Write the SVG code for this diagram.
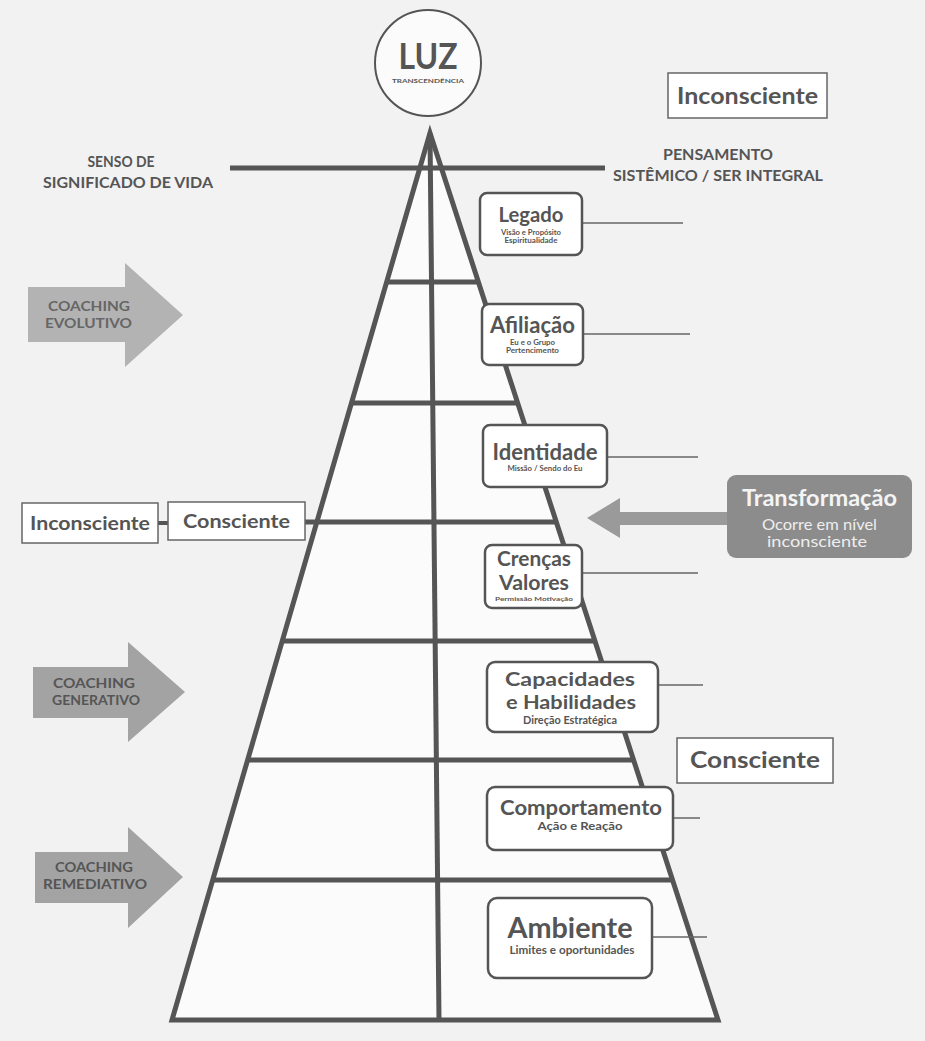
<svg xmlns="http://www.w3.org/2000/svg" width="925" height="1041" viewBox="0 0 925 1041">
<defs>
<style>
.f{font-family:Lato,'Open Sans','Liberation Sans',sans-serif;font-weight:700;fill:#555;text-anchor:middle}
.r{font-weight:700}
.box{fill:#fff;stroke:#555;stroke-width:2.5}
.lbl{fill:#fff;stroke:#666;stroke-width:1.5}
.pl{stroke:#555;stroke-width:5;fill:none}
.cn{stroke:#666;stroke-width:1.5;fill:none}
</style>
</defs>
<rect x="0" y="0" width="925" height="1041" fill="#f2f2f2"/>

<g id="pyramid">
<polygon points="430,133 718,1020 172,1020" fill="#fbfbfb" stroke="#555" stroke-width="5" stroke-linejoin="miter"/>
<line class="pl" x1="430" y1="133" x2="439" y2="1020" stroke-width="4"/>
<line class="pl" x1="230" y1="168" x2="605" y2="168"/>
<line class="pl" x1="387" y1="282" x2="478" y2="282"/>
<line class="pl" x1="351" y1="403" x2="518" y2="403"/>
<line class="pl" x1="305" y1="522" x2="556" y2="522"/>
<line class="pl" x1="282" y1="641" x2="595" y2="641"/>
<line class="pl" x1="247" y1="760" x2="634" y2="760"/>
<line class="pl" x1="213" y1="880" x2="672" y2="880"/>
</g>

<g id="connectors">
<line class="cn" x1="582" y1="223" x2="683" y2="223"/>
<line class="cn" x1="583" y1="334" x2="690" y2="334"/>
<line class="cn" x1="607" y1="457" x2="698" y2="457"/>
<line class="cn" x1="582" y1="573" x2="698" y2="573"/>
<line class="cn" x1="658" y1="685" x2="703" y2="685"/>
<line class="cn" x1="673" y1="818" x2="700" y2="818"/>
<line class="cn" x1="652" y1="937" x2="707" y2="937"/>
<line x1="158" y1="523" x2="168" y2="523" stroke="#555" stroke-width="4"/>
</g>

<g id="luz">
<circle cx="428" cy="63" r="53" fill="#fbfbfb" stroke="#555" stroke-width="2"/>
<text class="f" x="428" y="69" font-size="36" textLength="59" lengthAdjust="spacingAndGlyphs">LUZ</text>
<text class="f" x="428" y="82.5" font-size="6" textLength="72" lengthAdjust="spacingAndGlyphs">TRANSCENDÊNCIA</text>
</g>

<g id="inconsciente-top">
<rect class="lbl" x="668" y="73" width="159" height="45"/>
<text class="f" x="747.5" y="104" font-size="23" textLength="141" lengthAdjust="spacingAndGlyphs">Inconsciente</text>
</g>

<g id="pensamento">
<text class="f" x="718" y="160" font-size="15" textLength="110" lengthAdjust="spacingAndGlyphs">PENSAMENTO</text>
<text class="f" x="718" y="181" font-size="15" textLength="210" lengthAdjust="spacingAndGlyphs">SISTÊMICO / SER INTEGRAL</text>
</g>

<g id="senso">
<text class="f" x="121" y="167" font-size="15" textLength="67" lengthAdjust="spacingAndGlyphs">SENSO DE</text>
<text class="f" x="128" y="188" font-size="15" textLength="170" lengthAdjust="spacingAndGlyphs">SIGNIFICADO DE VIDA</text>
</g>

<g id="legado">
<rect class="box" x="480" y="193" width="102" height="62" rx="7"/>
<text class="f" x="531" y="222" font-size="21" textLength="65" lengthAdjust="spacingAndGlyphs">Legado</text>
<text class="f r" x="531" y="235" font-size="6.5" textLength="60" lengthAdjust="spacingAndGlyphs">Visão e Propósito</text>
<text class="f r" x="531" y="243" font-size="6.5" textLength="53" lengthAdjust="spacingAndGlyphs">Espiritualidade</text>
</g>

<g id="afiliacao">
<rect class="box" x="482" y="304" width="101" height="61" rx="7"/>
<text class="f" x="532.5" y="333" font-size="22" textLength="85" lengthAdjust="spacingAndGlyphs">Afiliação</text>
<text class="f r" x="532.5" y="345" font-size="6.5" textLength="45" lengthAdjust="spacingAndGlyphs">Eu e o Grupo</text>
<text class="f r" x="532.5" y="353" font-size="6.5" textLength="53" lengthAdjust="spacingAndGlyphs">Pertencimento</text>
</g>

<g id="identidade">
<rect class="box" x="483" y="425" width="124" height="62" rx="7"/>
<text class="f" x="545" y="460" font-size="22" textLength="105" lengthAdjust="spacingAndGlyphs">Identidade</text>
<text class="f r" x="545" y="471" font-size="6.5" textLength="75" lengthAdjust="spacingAndGlyphs">Missão / Sendo do Eu</text>
</g>

<g id="crencas">
<rect class="box" x="485" y="545" width="97" height="63" rx="7"/>
<text class="f" x="534" y="566" font-size="20" textLength="74" lengthAdjust="spacingAndGlyphs">Crenças</text>
<text class="f" x="534" y="590" font-size="20" textLength="70" lengthAdjust="spacingAndGlyphs">Valores</text>
<text class="f r" x="534" y="601" font-size="6.3" textLength="78" lengthAdjust="spacingAndGlyphs">Permissão Motivação</text>
</g>

<g id="capacidades">
<rect class="box" x="487" y="662" width="171" height="70" rx="8"/>
<text class="f" x="570" y="686" font-size="19" textLength="130" lengthAdjust="spacingAndGlyphs">Capacidades</text>
<text class="f" x="571" y="709" font-size="19" textLength="130" lengthAdjust="spacingAndGlyphs">e Habilidades</text>
<text class="f r" x="570" y="724" font-size="10.5" textLength="94" lengthAdjust="spacingAndGlyphs">Direção Estratégica</text>
</g>

<g id="comportamento">
<rect class="box" x="487" y="787" width="186" height="63" rx="8"/>
<text class="f" x="581" y="815" font-size="21" textLength="162" lengthAdjust="spacingAndGlyphs">Comportamento</text>
<text class="f r" x="580" y="830" font-size="12" textLength="85" lengthAdjust="spacingAndGlyphs">Ação e Reação</text>
</g>

<g id="ambiente">
<rect class="box" x="488" y="898" width="164" height="80" rx="9"/>
<text class="f" x="570" y="938" font-size="29" textLength="125" lengthAdjust="spacingAndGlyphs">Ambiente</text>
<text class="f r" x="572" y="954" font-size="11" textLength="125" lengthAdjust="spacingAndGlyphs">Limites e oportunidades</text>
</g>

<g id="consciente-right">
<rect class="lbl" x="677" y="738" width="156" height="45"/>
<text class="f" x="755" y="768" font-size="22" textLength="130" lengthAdjust="spacingAndGlyphs">Consciente</text>
</g>

<g id="transformacao">
<polygon points="587,518 620,498 620,512 728,512 728,525 620,525 620,538" fill="#9a9a9a"/>
<rect x="727" y="475" width="185" height="83" rx="9" fill="#8c8c8c"/>
<text class="f" x="819.5" y="506" font-size="23" style="fill:#f4f4f4" textLength="155" lengthAdjust="spacingAndGlyphs">Transformação</text>
<text class="f" x="819.5" y="530" font-size="16" style="fill:#eee;font-weight:400" textLength="115" lengthAdjust="spacingAndGlyphs">Ocorre em nível</text>
<text class="f" x="817" y="547" font-size="16" style="fill:#eee;font-weight:400" textLength="100" lengthAdjust="spacingAndGlyphs">inconsciente</text>
</g>

<g id="coaching-evolutivo">
<polygon points="28,287 125,287 125,263 183,315 125,367 125,342 28,342" fill="#b3b3b3"/>
<text class="f" x="89" y="311" font-size="14" style="fill:#666" textLength="82" lengthAdjust="spacingAndGlyphs">COACHING</text>
<text class="f" x="88.5" y="328" font-size="14" style="fill:#666" textLength="87" lengthAdjust="spacingAndGlyphs">EVOLUTIVO</text>
</g>

<g id="coaching-generativo">
<polygon points="33,667 128,667 128,642 185,692 128,742 128,718 33,718" fill="#a3a3a3"/>
<text class="f" x="94" y="688" font-size="14" style="fill:#555" textLength="82" lengthAdjust="spacingAndGlyphs">COACHING</text>
<text class="f" x="96" y="705" font-size="14" style="fill:#555" textLength="88" lengthAdjust="spacingAndGlyphs">GENERATIVO</text>
</g>

<g id="coaching-remediativo">
<polygon points="35,852 128,852 128,827 183,877 128,928 128,903 35,903" fill="#a3a3a3"/>
<text class="f" x="94" y="872" font-size="14" style="fill:#555" textLength="78" lengthAdjust="spacingAndGlyphs">COACHING</text>
<text class="f" x="95" y="889" font-size="14" style="fill:#555" textLength="104" lengthAdjust="spacingAndGlyphs">REMEDIATIVO</text>
</g>

<g id="inconsciente-left">
<rect class="lbl" x="22" y="503" width="136" height="40"/>
<text class="f" x="90" y="530" font-size="19" textLength="120" lengthAdjust="spacingAndGlyphs">Inconsciente</text>
</g>

<g id="consciente-left">
<rect class="lbl" x="168" y="502" width="137" height="38"/>
<text class="f" x="236.5" y="528" font-size="19" textLength="107" lengthAdjust="spacingAndGlyphs">Consciente</text>
</g>
</svg>
